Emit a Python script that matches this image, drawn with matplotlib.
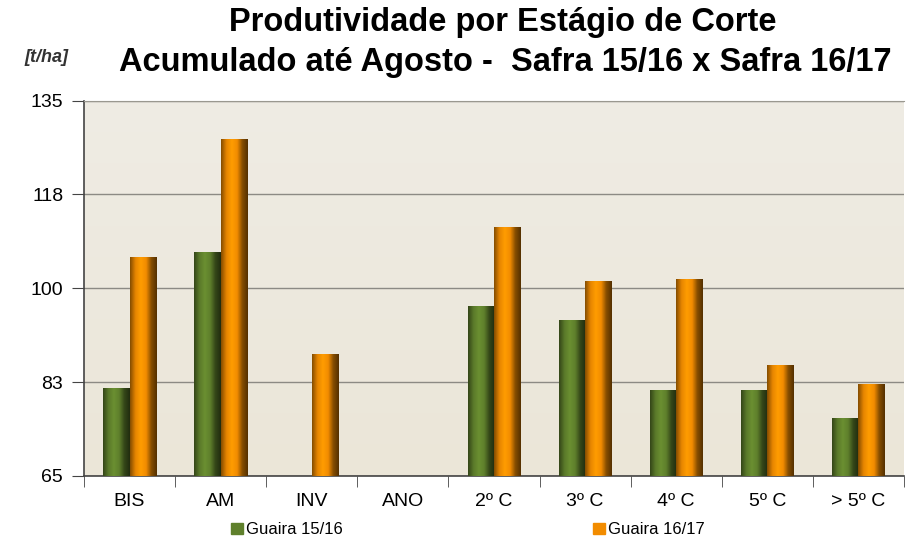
import numpy as np
import matplotlib
matplotlib.use("Agg")
import matplotlib.pyplot as plt
from matplotlib.patches import Rectangle

# --- data ---
categories = ["BIS", "AM", "INV", "ANO", "2º C", "3º C", "4º C", "5º C", "> 5º C"]
guaira_1516 = [81.5, 106.8, np.nan, np.nan, 96.7, 94.1, 81.0, 81.0, 75.9]
guaira_1617 = [105.9, 127.9, 87.8, np.nan, 111.4, 101.3, 101.8, 85.7, 82.2]
y_ticks = [65, 82.5, 100, 117.5, 135]
y_tick_labels = ["65", "83", "100", "118", "135"]
series_names = ["Guaira 15/16", "Guaira 16/17"]

plt.rcParams["font.family"] = ["Liberation Sans", "DejaVu Sans"]

green = "#5f802c"
orange = "#f28c00"
base = 65

fig = plt.figure(figsize=(9.09, 5.52), dpi=100)
ax = fig.add_axes([0.0924, 0.1377, 0.902, 0.68])

# plot area background gradient (light beige)
bg = np.linspace(0, 1, 256).reshape(-1, 1)
ax.imshow(bg, extent=[-0.5, 8.5, base, 135], aspect="auto", origin="lower",
          cmap=matplotlib.colors.LinearSegmentedColormap.from_list("bg", ["#ebe6d8", "#efece4"]),
          zorder=0)

x = np.arange(len(categories))
w = 0.29


def shaded_bars(xpos, vals, color):
    bars = ax.bar(xpos, np.array(vals) - base, w, bottom=base, color=color,
                  edgecolor="none", zorder=2)
    c = np.array(matplotlib.colors.to_rgb(color))
    cmap = matplotlib.colors.LinearSegmentedColormap.from_list(
        "cyl", [c * 0.55, c * 0.95, np.minimum(c * 1.12, 1), c, c * 0.55, c * 0.35])
    grad = np.linspace(0, 1, 64).reshape(1, -1)
    for b in bars:
        if np.isnan(b.get_height()):
            continue
        x0, y0 = b.get_x(), b.get_y()
        im = ax.imshow(grad, extent=[x0, x0 + b.get_width(), y0, y0 + b.get_height()],
                       aspect="auto", cmap=cmap, zorder=3)
        im.set_clip_path(b)
    return bars


shaded_bars(x - w / 2, guaira_1516, green)
shaded_bars(x + w / 2, guaira_1617, orange)

ax.set_xlim(-0.5, 8.5)
ax.set_ylim(base, 135)
ax.set_yticks(y_ticks)
ax.set_yticklabels(y_tick_labels, fontsize=14)
ax.yaxis.grid(True, color="#8c8a84", linewidth=1.0)
for gl in ax.get_ygridlines():
    gl.set_zorder(1)

ax.set_xticks(x)
ax.set_xticklabels(categories, fontsize=14)
ax.set_xticks(np.arange(-0.5, 9, 1), minor=True)
ax.tick_params(axis="x", which="major", length=0, pad=12)
ax.tick_params(axis="x", which="minor", length=8, color="#444444", direction="out")
ax.tick_params(axis="y", length=9, pad=6, color="#444444", direction="out")

ax.spines["right"].set_visible(False)
ax.spines["top"].set_color("#9a9890")
for s in ["left", "bottom"]:
    ax.spines[s].set_color("#444444")
    ax.spines[s].set_linewidth(1.2)

fig.text(0.553, 0.960, "Produtividade por Estágio de Corte", ha="center", va="center",
         fontsize=23.5, fontweight="bold")
fig.text(0.556, 0.886, "Acumulado até Agosto -  Safra 15/16 x Safra 16/17", ha="center",
         va="center", fontsize=23.5, fontweight="bold")
fig.text(0.027, 0.895, "[t/ha]", ha="left", va="center", fontsize=13,
         fontweight="bold", fontstyle="italic", color="#333333")

handles = [Rectangle((0, 0), 1, 1, color=green), Rectangle((0, 0), 1, 1, color=orange)]
fig.legend(handles, series_names, loc="center", bbox_to_anchor=(0.515, 0.04), ncol=2,
           frameon=False, fontsize=12, handlelength=0.7, handleheight=0.7,
           handletextpad=0.2, columnspacing=15)

fig.savefig("out.png", dpi=100)
